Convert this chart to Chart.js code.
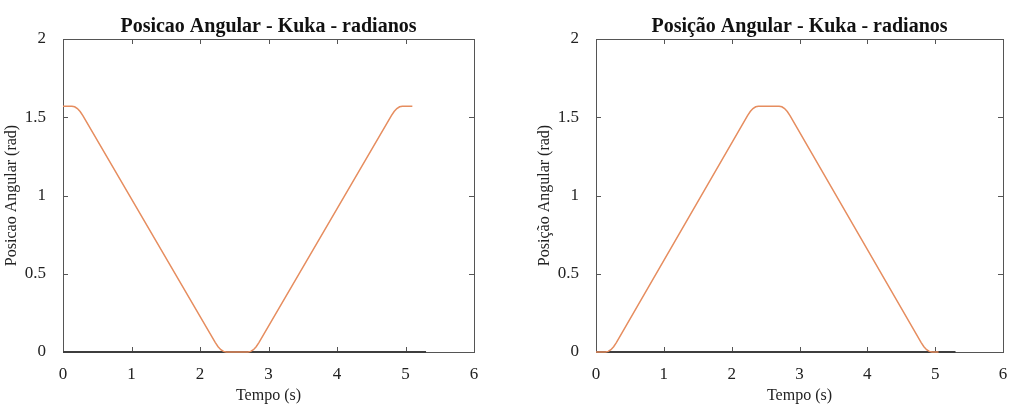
<!DOCTYPE html>
<html>
<head>
<meta charset="utf-8">
<script src="https://cdn.jsdelivr.net/npm/chart.js@4/dist/chart.umd.min.js"></script>
<style>
body{margin:0;background:#fff;width:1013px;height:405px;overflow:hidden;position:relative}
canvas{position:absolute;top:0}
#esq{left:0}
#dir{left:533px}
</style>
</head>
<body>
<canvas id="esq" width="500" height="405"></canvas>
<canvas id="dir" width="480" height="405"></canvas>
<script>
// junta 1 - desce de pi/2 ate 0 e volta
const tempoEsq = [0, 0.13, 0.17, 0.21, 0.25, 0.29, 2.224, 2.264, 2.304, 2.344, 2.384,
                  2.70, 2.74, 2.78, 2.82, 2.86, 4.794, 4.834, 4.874, 4.914, 4.954, 5.10];
const posEsq   = [1.5708, 1.5708, 1.5668, 1.5558, 1.5368, 1.5108, 0.06, 0.034, 0.015, 0.004, 0,
                  0, 0.004, 0.015, 0.034, 0.06, 1.5108, 1.5368, 1.5558, 1.5668, 1.5708, 1.5708];

// junta 2 - sobe de 0 ate pi/2 e volta
const tempoDir = [0, 0.14, 0.18, 0.22, 0.26, 0.30, 2.234, 2.274, 2.314, 2.354, 2.394,
                  2.70, 2.74, 2.78, 2.82, 2.86, 4.794, 4.834, 4.874, 4.914, 4.954, 5.05];
const posDir   = [0, 0, 0.004, 0.015, 0.034, 0.06, 1.5108, 1.5368, 1.5558, 1.5668, 1.5708,
                  1.5708, 1.5668, 1.5558, 1.5368, 1.5108, 0.06, 0.034, 0.015, 0.004, 0, 0];

// outras juntas paradas em zero
const tempoZero = [0, 5.3];
const posZero   = [0, 0];

const xTicks = [0, 1, 2, 3, 4, 5, 6];
const yTicks = [0, 0.5, 1, 1.5, 2];

const serif = "'Liberation Serif', 'Times New Roman', serif";

const moldura = {
    id: 'moldura',
    beforeDatasetsDraw(chart) {
        const {ctx, chartArea: a, scales: {x, y}} = chart;
        ctx.save();
        ctx.strokeStyle = '#555';
        ctx.lineWidth = 1;
        ctx.strokeRect(Math.round(a.left) + 0.5, Math.round(a.top) + 0.5, Math.round(a.width), Math.round(a.height));
        ctx.beginPath();
        xTicks.forEach(v => {
            const px = Math.round(x.getPixelForValue(v)) + 0.5;
            ctx.moveTo(px, a.bottom); ctx.lineTo(px, a.bottom - 5);
            ctx.moveTo(px, a.top); ctx.lineTo(px, a.top + 5);
        });
        yTicks.forEach(v => {
            const py = Math.round(y.getPixelForValue(v)) + 0.5;
            ctx.moveTo(a.left, py); ctx.lineTo(a.left + 5, py);
            ctx.moveTo(a.right, py); ctx.lineTo(a.right - 5, py);
        });
        ctx.stroke();
        ctx.restore();
    }
};

function grafico(id, tempo, pos, titulo, yTitulo, padRight) {
    return new Chart(document.getElementById(id), {
        type: 'line',
        data: {
            datasets: [
                {
                    data: tempo.map((t, i) => ({x: t, y: pos[i]})),
                    borderColor: '#e68d5f',
                    borderWidth: 1.5,
                    pointRadius: 0,
                    tension: 0,
                    clip: false
                },
                {
                    data: tempoZero.map((t, i) => ({x: t, y: posZero[i]})),
                    borderColor: '#3e3e3e',
                    borderWidth: 2,
                    pointRadius: 0,
                    clip: false
                }
            ]
        },
        options: {
            responsive: false,
            animation: false,
            devicePixelRatio: 1,
            layout: {padding: {left: 0, right: padRight, top: 0, bottom: 0}},
            plugins: {
                legend: {display: false},
                tooltip: {enabled: false},
                title: {
                    display: true,
                    text: titulo,
                    fullSize: false,
                    color: '#111',
                    font: {family: serif, size: 20, weight: 'bold'},
                    padding: {top: 15, bottom: 0}
                }
            },
            scales: {
                x: {
                    type: 'linear',
                    min: 0,
                    max: 6,
                    grid: {display: false},
                    border: {display: false},
                    afterBuildTicks: s => { s.ticks = xTicks.map(v => ({value: v})); },
                    afterFit: s => { s.height = 53; },
                    ticks: {
                        color: '#222',
                        padding: 4,
                        maxRotation: 0,
                        font: {family: serif, size: 17},
                        callback: v => String(v)
                    },
                    title: {
                        display: true,
                        text: 'Tempo (s)',
                        color: '#222',
                        font: {family: serif, size: 16},
                        padding: {top: 0, bottom: 0}
                    }
                },
                y: {
                    min: 0,
                    max: 2,
                    grid: {display: false},
                    border: {display: false},
                    afterBuildTicks: s => { s.ticks = yTicks.map(v => ({value: v})); },
                    afterFit: s => { s.width = 63; },
                    ticks: {
                        color: '#222',
                        padding: 9,
                        font: {family: serif, size: 17},
                        callback: v => String(v)
                    },
                    title: {
                        display: true,
                        text: yTitulo,
                        color: '#222',
                        font: {family: serif, size: 16},
                        padding: {top: 2, bottom: 0}
                    }
                }
            }
        },
        plugins: [moldura]
    });
}

grafico('esq', tempoEsq, posEsq, 'Posicao Angular - Kuka - radianos', 'Posicao Angular (rad)', 26);
grafico('dir', tempoDir, posDir, 'Posição Angular - Kuka - radianos', 'Posição Angular (rad)', 10);
</script>
</body>
</html>
